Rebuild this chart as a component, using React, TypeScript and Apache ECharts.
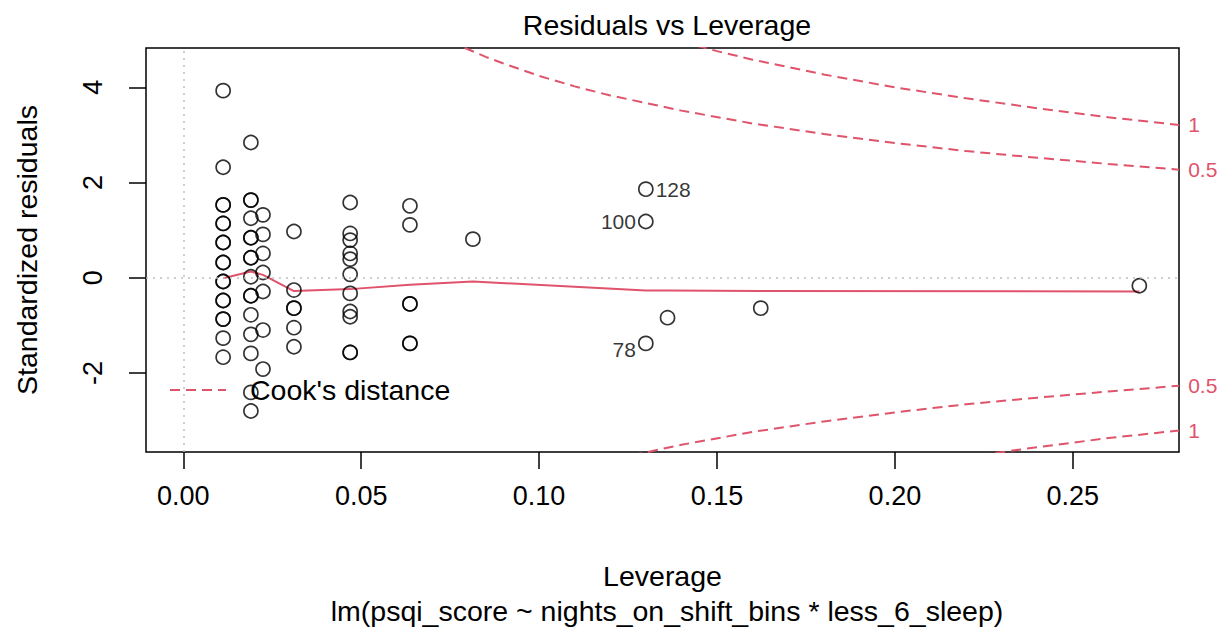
import React, { useEffect, useRef } from "react";
import * as echarts from "echarts";

// Observed points: leverage (x) and standardized residuals (y)
const leverageValues = [
  0.0112, 0.0112, 0.0112, 0.0112, 0.0112, 0.0112, 0.0112, 0.0112, 0.0112, 0.0112, 0.0112, 0.0112, 0.0112, 0.0112, 0.0112, 0.0112, 0.0112, 0.0112,
  0.019, 0.019, 0.019, 0.019, 0.019, 0.019, 0.019, 0.019, 0.019, 0.019, 0.019, 0.019, 0.019, 0.019, 0.019, 0.019,
  0.0224, 0.0224, 0.0224, 0.0224, 0.0224, 0.0224, 0.0224,
  0.0311, 0.0311, 0.0311, 0.0311, 0.0311, 0.0311,
  0.0469, 0.0469, 0.0469, 0.0469, 0.0469, 0.0469, 0.0469, 0.0469, 0.0469, 0.0469, 0.0469,
  0.0637, 0.0637, 0.0637, 0.0637, 0.0637, 0.0637,
  0.0814,
  0.1361, 0.1623, 0.2687,
];
const residualValues = [
  3.93, 2.32, 1.53, 1.53, 1.14, 1.14, 0.74, 0.74, 0.32, 0.32, -0.08, -0.08, -0.48, -0.48, -0.87, -0.87, -1.27, -1.67,
  2.84, 1.63, 1.63, 1.25, 0.84, 0.84, 0.42, 0.42, 0.02, -0.38, -0.38, -0.78, -1.19, -1.59, -2.41, -2.8,
  1.32, 0.91, 0.51, 0.11, -0.29, -1.1, -1.92,
  0.97, -0.26, -0.64, -0.64, -1.05, -1.45,
  1.58, 0.93, 0.79, 0.51, 0.39, 0.07, -0.33, -0.71, -0.82, -1.57, -1.57,
  1.51, 1.11, -0.55, -0.55, -1.38, -1.38,
  0.81,
  -0.84, -0.64, -0.17,
];

// Labelled observations
const labelledIds = ["128", "100", "78"];
const labelledLeverage = [0.13, 0.13, 0.13];
const labelledResidual = [1.86, 1.18, -1.38];
const labelledSide = ["right", "left", "left"];

// Red smoother
const smoothLeverage = [0.0112, 0.019, 0.0224, 0.0311, 0.0469, 0.0637, 0.0814, 0.13, 0.1361, 0.1623, 0.2687];
const smoothResidual = [-0.01, 0.13, 0.06, -0.28, -0.24, -0.15, -0.08, -0.27, -0.27, -0.28, -0.29];

// Cook's distance contours
const cookHalfLeverage = [0.075, 0.08, 0.085, 0.09, 0.1, 0.11, 0.12, 0.14, 0.16, 0.18, 0.2, 0.22, 0.24, 0.26, 0.2799];
const cookHalfUpper = [4.97, 4.8, 4.64, 4.5, 4.24, 4.02, 3.83, 3.51, 3.24, 3.02, 2.83, 2.66, 2.52, 2.39, 2.27];
const cookHalfLower = [-4.97, -4.8, -4.64, -4.5, -4.24, -4.02, -3.83, -3.51, -3.24, -3.02, -2.83, -2.66, -2.52, -2.39, -2.27];
const cookOneLeverage = [0.14, 0.15, 0.16, 0.18, 0.2, 0.22, 0.24, 0.26, 0.2799];
const cookOneUpper = [4.96, 4.76, 4.58, 4.27, 4.0, 3.77, 3.56, 3.37, 3.21];
const cookOneLower = [-4.96, -4.76, -4.58, -4.27, -4.0, -3.77, -3.56, -3.37, -3.21];

const xTicks = [0, 0.05, 0.1, 0.15, 0.2, 0.25];
const yTicks = [-2, 0, 2, 4];

const RED = "#DF536B";
const FONT = "Liberation Sans, Arial, Helvetica, sans-serif";
const BIG = 28.5;

export default function App() {
  const ref = useRef<HTMLDivElement>(null);
  useEffect(() => {
    if (!ref.current) return;
    const chart = echarts.init(ref.current, null, { renderer: "svg" });
    const zip = (a: number[], b: number[]) => a.map((v, i) => [v, b[i]]);
    const cookSeries = (name: string, lev: number[], res: number[], lbl: string) => ({
      type: "line",
      name,
      data: zip(lev, res),
      symbol: "none",
      clip: true,
      smooth: false,
      lineStyle: { color: RED, width: 2, type: [10, 6] },
      itemStyle: { color: RED },
      endLabel: {
        show: true,
        formatter: () => lbl,
        color: RED,
        fontSize: 21,
        fontFamily: FONT,
        distance: 9,
      },
      z: 3,
    });
    chart.setOption({
      animation: false,
      backgroundColor: "#fff",
      textStyle: { fontFamily: FONT },
      title: [
        {
          text: "Residuals vs Leverage",
          left: 662,
          textAlign: "center",
          top: 5,
          textStyle: { fontSize: BIG, fontWeight: "normal", color: "#000", fontFamily: FONT },
        },
        {
          text: "lm(psqi_score ~ nights_on_shift_bins * less_6_sleep)",
          left: 662,
          textAlign: "center",
          top: 591,
          textStyle: { fontSize: BIG, fontWeight: "normal", color: "#000", fontFamily: FONT },
        },
      ],
      graphic: [
        {
          type: "line",
          shape: { x1: 170, y1: 390, x2: 226, y2: 390 },
          style: { stroke: RED, lineWidth: 2, lineDash: [10, 6] },
          z: 10,
        },
        {
          type: "text",
          x: 250,
          y: 390,
          style: {
            text: "Cook's distance",
            fill: "#000",
            fontSize: BIG,
            fontFamily: FONT,
            textVerticalAlign: "middle",
            verticalAlign: "middle",
          },
          z: 10,
        },
      ],
      grid: {
        left: 146,
        top: 48,
        right: 44,
        bottom: 177,
        show: true,
        borderColor: "#000",
        borderWidth: 1.5,
        backgroundColor: "transparent",
      },
      xAxis: {
        type: "value",
        min: -0.01048,
        max: 0.27985,
        name: "Leverage",
        nameLocation: "middle",
        nameGap: 109,
        nameTextStyle: { fontSize: BIG, color: "#000", fontFamily: FONT },
        axisLine: { show: false, onZero: false },
        axisTick: { show: true, customValues: xTicks, length: 17, lineStyle: { color: "#000", width: 1.5 } },
        axisLabel: {
          customValues: xTicks,
          formatter: (v: number) => v.toFixed(2),
          fontSize: 27,
          color: "#000",
          margin: 30,
          fontFamily: FONT,
        },
        splitLine: { show: false },
      },
      yAxis: {
        type: "value",
        min: -3.662,
        max: 4.826,
        name: "Standardized residuals",
        nameLocation: "middle",
        nameRotate: 90,
        nameGap: 105,
        nameTextStyle: { fontSize: BIG, color: "#000", fontFamily: FONT },
        axisLine: { show: false, onZero: false },
        axisTick: { show: true, customValues: yTicks, length: 17, lineStyle: { color: "#000", width: 1.5 } },
        axisLabel: {
          customValues: yTicks,
          rotate: 90,
          fontSize: 27,
          color: "#000",
          margin: 40,
          fontFamily: FONT,
        },
        splitLine: { show: false },
      },
      series: [
        {
          type: "scatter",
          name: "refs",
          data: [],
          markLine: {
            silent: true,
            symbol: "none",
            label: { show: false },
            lineStyle: { color: "#BEBEBE", width: 1.5, type: [2, 5] },
            data: [{ xAxis: 0 }, { yAxis: 0 }],
          },
          z: 1,
        },
        {
          type: "line",
          name: "smooth",
          data: zip(smoothLeverage, smoothResidual),
          symbol: "none",
          lineStyle: { color: RED, width: 2 },
          z: 2,
        },
        cookSeries("Cook's distance", cookHalfLeverage, cookHalfUpper, "0.5"),
        cookSeries("Cook's distance", cookOneLeverage, cookOneUpper, "1"),
        cookSeries("Cook's distance", cookHalfLeverage, cookHalfLower, "0.5"),
        cookSeries("Cook's distance", cookOneLeverage, cookOneLower, "1"),
        {
          type: "scatter",
          name: "points",
          data: zip(leverageValues, residualValues),
          symbol: "circle",
          symbolSize: 14,
          itemStyle: { color: "rgba(0,0,0,0)", borderColor: "#000", borderWidth: 1.7 },
          z: 4,
        },
        {
          type: "scatter",
          name: "labelled",
          data: labelledIds.map((id, i) => ({
            value: [labelledLeverage[i], labelledResidual[i]],
            name: id,
            label: {
              show: true,
              formatter: id,
              position: labelledSide[i],
              distance: 2,
              offset: id === "78" ? [0, 6] : [0, 0],
              fontSize: 21,
              color: "#000",
              fontFamily: FONT,
            },
          })),
          symbol: "circle",
          symbolSize: 14,
          itemStyle: { color: "rgba(0,0,0,0)", borderColor: "#000", borderWidth: 1.7 },
          z: 4,
        },
      ],
    });
    return () => chart.dispose();
  }, []);
  return (
    <div
      ref={ref}
      style={{ position: "fixed", left: 0, top: 0, width: 1223, height: 629, background: "#fff" }}
    />
  );
}
